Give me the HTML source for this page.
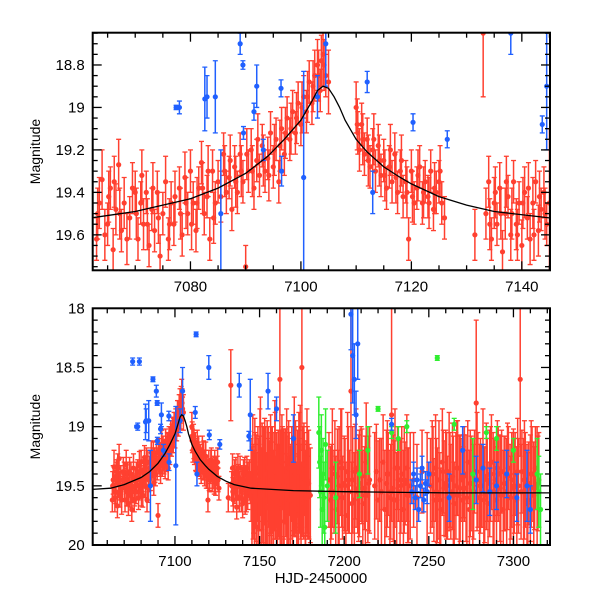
<!DOCTYPE html>
<html><head><meta charset="utf-8"><style>
html,body{margin:0;padding:0;background:#fff}
svg{display:block;font-family:"Liberation Sans",sans-serif}
</style></head><body>
<svg id="chart" width="600" height="600" viewBox="0 0 600 600"></svg>
<script>
// ---- data ----
const redT=[7063,7063.5,7064,7065,7065.5,7066,7066.5,7067,7067.5,7069,7070,7070.5,7071,7071.5,7072,7072.5,7073,7073.5,7074,7074.5,7075,7076,7076.5,7077,7078,7078.5,7079,7079.5,7080,7080.5,7081,7081.5,7082,7082.5,7083,7083.5,7084,7084.5,7085,7086,7086.5,7087,7087.5,7088,7088.5,7089,7089.5,7090,7090.5,7091,7091.5,7092,7092.5,7093,7093.5,7094,7094.5,7095,7095.5,7096,7096.5,7097,7097.5,7098,7098.5,7099,7099.5,7100,7100.5,7101,7101.5,7102,7102.5,7103,7103.5,7104,7104.5,7105,7110,7110.3,7110.6,7111,7111.5,7112,7112.5,7113,7113.5,7114,7114.5,7115,7115.5,7116,7116.5,7117,7117.5,7118,7118.5,7119,7119.5,7120,7120.5,7121,7121.5,7122,7122.5,7123,7123.5,7124,7124.5,7125,7125.5,7126,7131.5,7133,7133.5,7134,7134.5,7135,7135.5,7136,7136.5,7137,7137.5,7138,7138.5,7139,7139.5,7140,7140.5,7141,7141.5,7142,7142.5,7143,7143.5,7144,7144.5,
7145,7145.5,7146,7146.5,7147,7147.5,7148,7148.5,7149,7149.5,7150,7150.5,7151,7151.5,7152,7152.5,7153,7153.5,7154,7154.5,7155,7155.5,7156,7156.5,7157,7157.5,7158,7158.5,7159,7159.5,7160,7160.5,7161,7161.5,7162,7162.5,7163,7163.5,7164,7164.5,7165,7165.5,7166,7166.5,7167,7167.5,7168,7168.5,7169,7169.5,7170,7170.5,7171,7171.5,7172,7172.5,7173,7173.5,7174,7174.5,7175,7175.5,7176,7176.5,7177,7177.5,7178,7178.5,7179,7180,
7191,7192,7193,7194,7195,7196,7197,7198,7199,7200,7201,7202,7203,7204,7205,7206,7207,7208,7209,7210,7211,7212,7213,7214,7215,
7218,7219,7220,7221,7222,7223,7224,7225,7226,7227,7228,7229,7230,7231,7232,7233,7234,7235,7236,7237,7238,7239,
7241,7243,7246,7249,7251,7252,7253,7254,7255,7256,7257,7258,7259,7260,7261,7262,7263,7264,7265,7266,7267,7268,7269,7270,7271,7272,7273,7274,7275,7276,7277,7278,7279,7280,7281,7282,7283,7284,7285,7286,7287,7288,7289,7290,7291,7292,7293,7294,7295,7296,7297,7298,7299,7300,7301,7302,7303,7304,7305,7306,7307,7308,7309,7310,7311,7312,7313,7314,7315];
const redM=[19.62,19.45,19.34,19.55,19.38,19.67,19.48,19.27,19.58,19.52,19.40,19.62,19.45,19.55,19.40,19.65,19.48,19.58,19.40,19.70,19.50,19.62,19.45,19.55,19.38,19.60,19.33,19.50,19.30,19.45,19.58,19.38,19.26,19.50,19.42,19.62,19.30,19.45,19.35,19.22,19.40,19.33,19.48,19.28,19.40,19.22,19.35,19.75,19.30,19.20,19.38,19.25,19.32,19.18,19.30,19.24,19.12,19.28,19.15,19.35,19.10,19.22,19.05,19.15,19.02,19.12,18.98,19.08,18.95,19.02,18.88,18.98,18.85,18.80,18.92,18.75,18.85,18.88,19.00,19.12,19.20,19.08,19.22,19.15,19.28,19.20,19.30,19.18,19.32,19.25,19.38,19.28,19.35,19.22,19.40,19.30,19.42,19.35,19.62,19.30,19.45,19.38,19.28,19.45,19.35,19.42,19.30,19.48,19.40,19.35,19.45,19.52,19.60,18.65,19.50,19.35,19.62,19.45,19.55,19.38,19.68,19.50,19.42,19.60,19.35,19.55,19.45,19.65,19.40,19.52,19.62,19.45,19.35,19.58,19.48,19.40,19.55,
19.45,19.62,19.30,19.55,19.70,19.40,19.52,19.85,19.35,19.60,19.48,19.25,19.65,19.42,19.58,19.75,19.38,19.50,19.62,19.30,19.55,19.45,19.80,19.40,19.58,19.35,19.65,19.50,19.28,19.60,19.45,19.72,19.38,19.55,18.60,19.48,19.62,19.35,19.52,19.80,19.42,19.58,19.30,19.65,19.50,19.40,19.70,19.55,19.35,19.62,19.48,19.25,19.58,19.45,19.75,19.38,19.60,19.50,19.32,19.65,18.50,19.45,19.55,19.40,19.70,19.52,19.35,19.60,19.48,19.58,
19.45,19.62,19.35,19.55,19.70,19.42,19.50,19.30,19.60,19.48,19.75,19.38,19.55,18.70,19.45,19.62,19.35,19.55,19.48,19.40,19.65,19.52,19.30,19.58,19.45,
19.50,19.38,19.62,19.45,19.55,19.30,19.70,19.48,19.40,19.60,18.90,19.52,19.35,19.62,19.45,19.55,19.40,19.70,19.48,19.35,19.58,19.50,
19.45,19.60,19.38,19.55,19.50,19.40,19.62,19.35,19.58,19.45,19.70,19.30,19.52,19.48,19.60,19.38,19.55,19.42,19.65,19.50,19.35,19.58,19.45,19.62,19.40,19.52,19.30,19.70,19.48,19.55,19.38,18.80,19.45,19.60,19.50,19.35,19.58,19.42,19.65,19.48,19.30,19.55,19.45,19.62,19.40,19.52,19.38,19.70,19.48,19.55,19.35,19.60,19.45,19.52,19.40,19.62,19.50,18.60,19.38,19.55,19.45,19.65,19.48,19.52,19.40,19.58,19.35,19.50,19.45];
const redE=[0.1,0.12,0.14,0.1,0.1,0.1,0.12,0.12,0.1,0.1,0.1,0.1,0.1,0.12,0.1,0.1,0.1,0.1,0.1,0.1,0.1,0.1,0.1,0.1,0.1,0.1,0.12,0.1,0.1,0.1,0.1,0.1,0.1,0.1,0.1,0.1,0.1,0.1,0.1,0.1,0.1,0.1,0.1,0.1,0.1,0.1,0.1,0.1,0.1,0.1,0.1,0.1,0.1,0.1,0.1,0.1,0.1,0.1,0.1,0.1,0.1,0.1,0.1,0.1,0.1,0.1,0.1,0.1,0.1,0.1,0.1,0.1,0.12,0.12,0.1,0.15,0.1,0.15,0.12,0.1,0.1,0.1,0.1,0.1,0.1,0.1,0.1,0.1,0.1,0.1,0.1,0.1,0.1,0.1,0.1,0.1,0.1,0.1,0.1,0.1,0.1,0.1,0.1,0.1,0.1,0.1,0.1,0.1,0.1,0.1,0.1,0.1,0.12,0.3,0.12,0.12,0.1,0.12,0.1,0.12,0.1,0.12,0.1,0.12,0.1,0.12,0.1,0.12,0.12,0.1,0.12,0.12,0.1,0.12,0.1,0.12,0.1,
0.35,0.45,0.4,0.35,0.5,0.35,0.45,0.4,0.35,0.45,0.4,0.5,0.35,0.45,0.4,0.35,0.45,0.5,0.4,0.35,0.45,0.4,0.35,0.5,0.45,0.35,0.4,0.45,0.5,0.35,0.4,0.45,0.35,0.4,0.7,0.45,0.4,0.35,0.5,0.45,0.4,0.35,0.45,0.4,0.5,0.35,0.45,0.4,0.35,0.45,0.4,0.5,0.35,0.45,0.4,0.35,0.45,0.4,0.5,0.35,0.7,0.45,0.4,0.35,0.45,0.4,0.5,0.35,0.45,0.4,
0.4,0.45,0.5,0.35,0.45,0.4,0.5,0.45,0.35,0.4,0.45,0.5,0.35,0.8,0.45,0.4,0.5,0.35,0.45,0.4,0.45,0.35,0.5,0.4,0.45,
0.45,0.4,0.5,0.35,0.45,0.4,0.5,0.45,0.35,0.4,0.9,0.45,0.5,0.4,0.35,0.45,0.4,0.5,0.35,0.45,0.4,0.45,
0.4,0.45,0.35,0.5,0.4,0.45,0.35,0.45,0.4,0.5,0.35,0.45,0.4,0.45,0.35,0.5,0.4,0.45,0.35,0.45,0.4,0.5,0.35,0.45,0.4,0.45,0.35,0.5,0.4,0.45,0.35,0.7,0.4,0.45,0.35,0.5,0.4,0.45,0.35,0.45,0.4,0.5,0.35,0.45,0.4,0.45,0.35,0.5,0.4,0.45,0.35,0.45,0.4,0.5,0.35,0.45,0.4,0.65,0.35,0.45,0.4,0.5,0.35,0.45,0.4,0.45,0.35,0.5,0.4];
const red2T=[7063.2,7064.5,7065.2,7066.2,7067.2,7068,7068.5,7069.5,7070.2,7071.2,7072.2,7073.2,7074.2,7075.5,7076.2,7077.2,7078.2,7079.2,7080.2,7081.2,7082.2,7083.2,7084.2,7085.5,7086.2,7087.2,7088.2,7089.2,7090.2,7091.2,7092.2,7093.2,7094.2,7095.2,7096.2,7097.2,7098.2,7099.2,7100.2,7101.2,7102.2,7103.2,7103.7,7104.2,7110.2,7111.2,7112.2,7113.2,7114.2,7115.2,7116.2,7117.2,7118.2,7119.2,7120.2,7121.2,7122.2,7123.2,7124.2,7125.2,7134.2,7135.2,7136.2,7137.2,7138.2,7139.2,7140.2,7141.2,7142.2,7143.2,7144.2,
7146.2,7147.2,7148.2,7149.2,7150.2,7151.2,7152.2,7153.2,7154.2,7155.2,7156.2,7157.2,7158.2,7159.2,7160.2,7161.2,7162.2,7163.2,7164.2,7165.2,7166.2,7167.2,7168.2,7169.2,7170.2,7171.2,7172.2,7173.2,7174.2,7175.2,7176.2,7177.2,7178.2,7179.2,
7192.5,7194.5,7196.5,7198.5,7200.5,7202.5,7204.5,7206.5,7208.5,7210.5,7212.5,7214.5,7225.5,7227.5,7229.5,7231.5,7233.5,7235.5,7237.5,
7252.5,7254.5,7256.5,7258.5,7260.5,7262.5,7264.5,7266.5,7268.5,7270.5,7272.5,7274.5,7276.5,7278.5,7280.5,7282.5,7284.5,7286.5,7288.5,7290.5,7292.5,7294.5,7296.5,7298.5,7300.5,7302.5,7304.5,7306.5,7308.5,7310.5,7312.5,7314.5];
const red2M=[19.50,19.60,19.42,19.35,19.50,19.45,19.62,19.38,19.50,19.32,19.55,19.38,19.52,19.35,19.55,19.42,19.50,19.45,19.55,19.45,19.38,19.30,19.52,19.42,19.30,19.25,19.35,19.30,19.22,19.30,19.15,19.25,19.32,19.20,19.18,19.12,19.10,19.05,19.00,18.95,18.90,18.85,18.78,18.80,19.08,19.15,19.25,19.15,19.25,19.32,19.20,19.33,19.25,19.40,19.42,19.32,19.40,19.45,19.38,19.30,19.55,19.40,19.50,19.35,19.50,19.60,19.45,19.38,19.60,19.42,19.50,
19.55,19.38,19.62,19.45,19.30,19.58,19.50,19.40,19.68,19.35,19.52,19.45,19.60,19.38,19.55,19.48,19.65,19.30,19.50,19.42,19.58,19.35,19.62,19.45,19.52,19.40,19.70,19.38,19.55,19.48,19.32,19.60,19.45,19.55,
19.55,19.40,19.60,19.35,19.50,19.45,19.65,19.38,19.52,19.42,19.58,19.48,19.40,19.55,19.62,19.35,19.50,19.45,19.58,
19.40,19.55,19.62,19.38,19.50,19.45,19.58,19.35,19.52,19.42,19.60,19.48,19.55,19.38,19.50,19.62,19.45,19.40,19.55,19.35,19.58,19.48,19.42,19.60,19.50,19.38,19.55,19.45,19.62,19.40,19.52,19.48];
const red2E=[0.12,0.12,0.12,0.12,0.12,0.12,0.12,0.12,0.12,0.12,0.12,0.12,0.12,0.12,0.12,0.12,0.12,0.12,0.12,0.12,0.12,0.12,0.12,0.12,0.12,0.12,0.12,0.12,0.12,0.12,0.12,0.12,0.12,0.12,0.12,0.12,0.12,0.12,0.12,0.12,0.12,0.12,0.12,0.12,0.12,0.12,0.12,0.12,0.12,0.12,0.12,0.12,0.12,0.12,0.12,0.12,0.12,0.12,0.12,0.12,0.12,0.12,0.12,0.12,0.12,0.12,0.12,0.12,0.12,0.12,0.12,
0.4,0.45,0.4,0.35,0.45,0.4,0.5,0.4,0.45,0.35,0.4,0.45,0.4,0.5,0.4,0.45,0.35,0.4,0.45,0.4,0.5,0.4,0.45,0.35,0.4,0.45,0.4,0.5,0.4,0.45,0.35,0.4,0.45,0.4,
0.4,0.45,0.4,0.5,0.4,0.45,0.35,0.4,0.45,0.4,0.5,0.4,0.45,0.4,0.5,0.35,0.4,0.45,0.4,
0.4,0.45,0.4,0.35,0.45,0.4,0.5,0.4,0.45,0.35,0.4,0.45,0.4,0.5,0.4,0.45,0.35,0.4,0.45,0.4,0.5,0.4,0.45,0.35,0.4,0.45,0.4,0.5,0.4,0.45,0.35,0.4];
const blueT=[7077.4,7082.6,7084.5,7085.5,7089.5,7089.6,7091.5,7093.2,7096.4,7096.5,7100.5,7103,7104.5,7112,7113,7120.3,7126.5,7143.7,7144.5,7075,7079,7078,7083,7087,7089,7092,7112.5,7120,7138,7155,7160,7170,7204,7205,7206,7207,7208,7228,7240,7241,7242,7243,7244,7245,7246,7247,7248,7249,7250,7262,7270,7278,7282,7286,7290,7296,7302,7308,7310];
const blueM=[19.00,18.96,18.95,19.50,18.80,19.12,19.02,19.20,18.91,19.30,19.33,18.95,18.70,18.88,19.40,19.07,19.15,19.08,18.90,18.45,18.45,19.00,18.95,18.60,18.70,18.90,18.22,18.50,18.65,18.70,18.85,19.10,18.05,18.40,18.60,18.90,18.30,18.98,19.55,19.40,19.60,19.45,19.70,19.50,19.35,19.62,19.48,19.55,19.40,19.60,19.20,19.45,19.35,19.55,19.50,19.40,19.60,19.50,19.70];
const blueE=[0.01,0.15,0.17,0.3,0.02,0.03,0.04,0.05,0.04,0.07,0.5,0.1,0.2,0.05,0.1,0.04,0.04,0.04,0.3,0.03,0.03,0.03,0.1,0.02,0.05,0.1,0.02,0.1,0.1,0.15,0.1,0.2,0.3,0.4,0.3,0.2,0.3,0.05,0.1,0.1,0.1,0.1,0.1,0.1,0.1,0.1,0.1,0.1,0.1,0.2,0.2,0.2,0.2,0.2,0.2,0.2,0.2,0.3,0.2];
const greenT=[7185,7185.5,7186,7186.5,7187,7187.5,7188,7188.5,7189,7190,7195,7209,7214,7220,7228,7232,7237,7255,7265,7276,7284,7290,7300,7314,7315,7316];
const greenM=[19.05,19.30,19.55,19.20,19.70,19.40,19.60,19.85,19.15,19.50,19.60,19.40,19.20,18.85,19.05,19.10,19.00,18.42,18.98,19.40,19.05,19.10,19.20,19.40,19.55,19.70];
const greenE=[0.3,0.3,0.3,0.3,0.3,0.3,0.3,0.3,0.3,0.3,0.3,0.2,0.2,0.02,0.05,0.1,0.05,0.02,0.05,0.3,0.05,0.1,0.1,0.3,0.3,0.3];
const modelT=[7040,7062,7070,7080,7085,7090,7094,7097,7100,7102,7103,7104,7105,7106,7107,7108,7110,7112,7115,7118,7120,7125,7130,7135,7145,7170,7200,7260,7330];
const modelM=[19.54,19.52,19.49,19.43,19.38,19.31,19.23,19.15,19.06,18.97,18.92,18.90,18.91,18.95,19.00,19.06,19.15,19.21,19.28,19.33,19.36,19.42,19.46,19.49,19.52,19.54,19.55,19.56,19.56];
const topXTicks=[7080,7100,7120,7140];
const topYTicks=[18.8,19,19.2,19.4,19.6];
const botXTicks=[7100,7150,7200,7250,7300];
const botYTicks=[18,18.5,19,19.5,20];

const NS="http://www.w3.org/2000/svg";
const svg=document.getElementById('chart');
function mk(tag,attrs,parent){const e=document.createElementNS(NS,tag);for(const k in attrs)e.setAttribute(k,attrs[k]);(parent||svg).appendChild(e);return e;}

const defs=mk('defs',{});
function panel(id,px0,px1,py0,py1,t0,t1,m0,m1,xt,xmin,yt,ymin,ylabs){
  const X=t=>px0+(t-t0)/(t1-t0)*(px1-px0);
  const Y=m=>py0+(m-m0)/(m1-m0)*(py1-py0);
  const cp=mk('clipPath',{id:'clip'+id},defs);
  mk('rect',{x:px0,y:py0,width:px1-px0,height:py1-py0},cp);
  const g=mk('g',{'clip-path':'url(#clip'+id+')'});
  
  
  function series(T,M,E,col,name){
    const sg=mk('g',{},g);
    
    
    const n=Math.min(T.length,M.length);
    for(let i=0;i<n;i++){
      const x=X(T[i]),y=Y(M[i]),e=E[i]!==undefined?E[i]:0.1;
      const ya=Y(M[i]-e),yb=Y(M[i]+e);
      mk('line',{x1:x,x2:x,y1:ya,y2:yb,stroke:col,'stroke-width':1.5},sg);
      mk('line',{x1:x-2.5,x2:x+2.5,y1:ya,y2:ya,stroke:col,'stroke-width':1.3},sg);
      mk('line',{x1:x-2.5,x2:x+2.5,y1:yb,y2:yb,stroke:col,'stroke-width':1.3},sg);
      mk('circle',{cx:x,cy:y,r:2.6,fill:col},sg);
    }
  }
  series(redT,redM,redE,'#ff4030','red');
  series(red2T,red2M,red2E,'#ff4030','red-extra');
  series(greenT,greenM,greenE,'#30ee30','green');
  series(blueT,blueM,blueE,'#2060ff','blue');
  let d='';
  for(let i=0;i<modelT.length;i++)d+=(i?'L':'M')+X(modelT[i]).toFixed(1)+','+Y(modelM[i]).toFixed(1);
  const ml=mk('path',{d:d,fill:'none',stroke:'#000','stroke-width':1.3},g);
  
  
  const fr=mk('rect',{x:px0,y:py0,width:px1-px0,height:py1-py0,fill:'none',stroke:'#000','stroke-width':2});
  
  
  const tg=mk('g',{stroke:'#000','stroke-width':1.3});
  
  
  const s=Math.ceil(t0/xmin)*xmin;
  for(let t=s;t<=t1;t+=xmin){
    const major=Math.abs(t%(xt[1]-xt[0]))<1e-6;
    const L=major?9:5,x=X(t);
    mk('line',{x1:x,x2:x,y1:py1,y2:py1-L},tg);mk('line',{x1:x,x2:x,y1:py0,y2:py0+L},tg);
  }
  const ys=Math.ceil(m0/ymin-1e-6)*ymin;
  for(let m=ys;m<=m1+1e-9;m+=ymin){
    const major=yt.some(v=>Math.abs(v-m)<1e-6);
    const L=major?9:5,y=Y(m);
    mk('line',{x1:px0,x2:px0+L,y1:y,y2:y},tg);mk('line',{x1:px1,x2:px1-L,y1:y,y2:y},tg);
  }
  xt.forEach(t=>{
    const tx=mk('text',{x:X(t),y:py1+21,'text-anchor':'middle','font-size':15,fill:'#000'});
    tx.textContent=t;
    
    
  });
  yt.forEach((m,i)=>{
    const tx=mk('text',{x:px0-8,y:Y(m)+5,'text-anchor':'end','font-size':15,fill:'#000'});
    tx.textContent=ylabs[i];
    
    
  });
  const yl=mk('text',{x:0,y:0,transform:`translate(40,${(py0+py1)/2}) rotate(-90)`,'text-anchor':'middle','font-size':14,fill:'#000'});
  yl.textContent='Magnitude';
  
  
}
panel('top',92.7,550,32.7,270.3,7062.3,7145.1,18.648,19.767,topXTicks,5,topYTicks,0.05,['18.8','19','19.2','19.4','19.6']);
panel('bottom',92.7,550,308.3,545,7051.4,7321.6,18,20,botXTicks,10,botYTicks,0.1,['18','18.5','19','19.5','20']);
const xl=mk('text',{x:321,y:583,'text-anchor':'middle','font-size':15,fill:'#000'});
xl.textContent='HJD-2450000';


</script>
</body></html>
